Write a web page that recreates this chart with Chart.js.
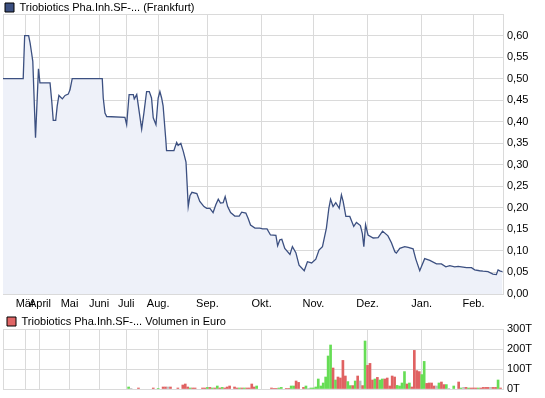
<!DOCTYPE html>
<html>
<head>
<meta charset="utf-8">
<script src="https://cdn.jsdelivr.net/npm/chart.js@4.4.1/dist/chart.umd.min.js"></script>
<style>
  body { margin: 0; background: #fff; }
  #wrap { position: relative; width: 545px; height: 398px; }
  #price { position: absolute; left: 0; top: 0; }
  #volume { position: absolute; left: 0; top: 312px; }
</style>
</head>
<body>
<div id="wrap">
  <canvas id="price" width="545" height="312"></canvas>
  <canvas id="volume" width="545" height="86"></canvas>
</div>
<script>
//Month labels and the trading day on which each month starts
const monthNames = ["Mär", "April", "Mai", "Juni", "Juli", "Aug.", "Sep.", "Okt.", "Nov.", "Dez.", "Jan.", "Feb."];
const monthStartDays = [9, 15, 27, 39, 50, 63, 83, 105, 126, 148, 170, 191];
const lastDay = 203;

//Price line (trading day, price in Euro)
const priceDays = [0, 8.2, 8.8, 10.4, 11, 11.6, 12.1, 13.2, 13.4, 14.4, 15, 19.1, 19.8, 20.4, 21.4, 22, 22.7, 24.1, 25.2, 26.5,
  27.2, 28.1, 40.3, 40.7, 41.4, 42.1, 49.5, 50.2, 51.2, 52.9, 53.3, 54.3, 56.3, 57.2, 58.3, 59.4, 60.3, 61, 62.1, 63,
  63.7, 64.4, 65, 66.1, 66.4, 69.4, 70.5, 71.1, 72.2, 73.2, 74.3, 74.8, 75.2, 75.9, 76.7, 78.7, 79.9, 81.6, 82.7, 84,
  85.3, 86.4, 87.4, 88.3, 89.4, 90.2, 91.2, 92.4, 94.1, 95.9, 96.9, 98.6, 99.5, 100.5, 102.3, 104.3, 105.4, 107.2, 108.6, 110.8,
  111.5, 112.4, 113.2, 114.4, 116.5, 117.5, 118.9, 120.2, 122.3, 123.6, 125.3, 127, 128.3, 129.7, 131.3, 132.3, 133, 134, 135.1, 136.5,
  137.4, 138.1, 139.2, 140.8, 142.4, 143.5, 145.1, 145.9, 146.5, 147.2, 148.2, 150.3, 152.3, 154.1, 156.3, 157.7, 159.1, 159.7, 161.1, 163.1,
  164.5, 166.5, 167.6, 169.2, 171.2, 173.3, 176, 178, 179.8, 181.4, 183.4, 184.8, 186.1, 188.2, 190.2, 191.5, 193.5, 194.9, 196.9, 198.9,
  200.3, 201, 201.9, 202.8];
const prices = [0.50, 0.50, 0.60, 0.60, 0.583, 0.56, 0.54, 0.363, 0.389, 0.523, 0.49, 0.49, 0.447, 0.403, 0.403, 0.436, 0.461, 0.453, 0.461, 0.464,
  0.474, 0.50, 0.50, 0.455, 0.42, 0.412, 0.41, 0.393, 0.463, 0.463, 0.453, 0.463, 0.383, 0.42, 0.47, 0.47, 0.455, 0.409, 0.393, 0.455,
  0.47, 0.455, 0.437, 0.358, 0.333, 0.333, 0.352, 0.345, 0.35, 0.331, 0.306, 0.25, 0.203, 0.228, 0.236, 0.233, 0.215, 0.203, 0.199, 0.199,
  0.189, 0.207, 0.22, 0.211, 0.212, 0.226, 0.203, 0.189, 0.181, 0.181, 0.19, 0.188, 0.176, 0.16, 0.153, 0.153, 0.151, 0.151, 0.137, 0.136,
  0.112, 0.126, 0.127, 0.106, 0.092, 0.11, 0.096, 0.067, 0.054, 0.075, 0.072, 0.081, 0.102, 0.11, 0.153, 0.199, 0.22, 0.203, 0.212, 0.199,
  0.23, 0.215, 0.18, 0.18, 0.157, 0.166, 0.159, 0.14, 0.11, 0.161, 0.137, 0.13, 0.131, 0.146, 0.135, 0.119, 0.098, 0.095, 0.106, 0.11,
  0.108, 0.105, 0.081, 0.054, 0.082, 0.078, 0.07, 0.07, 0.063, 0.066, 0.063, 0.064, 0.063, 0.061, 0.061, 0.056, 0.054, 0.053, 0.052, 0.046,
  0.045, 0.056, 0.053, 0.052];

//Volume in thousand Euro, trend: 1 = up, -1 = down, 0 = unchanged
const volDays = [51, 52, 55, 61, 63, 65, 66, 67, 68, 71, 73, 74, 75, 76, 77, 78, 81, 82, 83, 84,
  85, 86, 87, 88, 89, 90, 91, 92, 94, 95, 96, 97, 98, 99, 100, 101, 102, 103, 109, 110,
  111, 112, 113, 115, 116, 117, 118, 119, 120, 122, 123, 124, 125, 126, 127, 128, 129, 130, 131, 132,
  133, 134, 135, 136, 137, 138, 139, 140, 141, 142, 143, 144, 145, 146, 147, 148, 149, 150, 151, 152,
  153, 154, 155, 156, 157, 158, 159, 160, 161, 162, 163, 164, 165, 166, 167, 168, 169, 170, 171, 172,
  173, 174, 175, 176, 177, 178, 179, 180, 181, 183, 185, 186, 187, 188, 189, 190, 191, 192, 193, 194,
  195, 196, 197, 198, 199, 200, 201, 202];
const volumes = [10, 3, 5, 5, 3, 10, 10, 10, 10, 5, 20, 25, 10, 5, 5, 5, 5, 5, 8, 8,
  5, 5, 15, 5, 8, 5, 10, 15, 10, 5, 5, 5, 5, 5, 5, 25, 10, 15, 5, 3,
  3, 5, 8, 3, 3, 15, 15, 40, 33, 8, 15, 3, 5, 5, 10, 50, 15, 30, 60, 165,
  220, 105, 45, 60, 55, 143, 65, 37, 17, 17, 40, 65, 40, 17, 240, 118, 128, 45, 50, 58,
  45, 50, 50, 55, 15, 65, 60, 18, 15, 30, 87, 25, 30, 10, 193, 92, 87, 72, 138, 28,
  30, 30, 15, 15, 30, 35, 22, 22, 3, 15, 35, 5, 8, 8, 5, 5, 5, 5, 5, 5,
  8, 8, 8, 8, 8, 8, 45, 5];
const volTrend = [1, 0, -1, -1, 1, -1, -1, 0, -1, -1, -1, -1, -1, 1, -1, -1, -1, -1, 1, -1,
  1, -1, 1, -1, 1, -1, -1, -1, -1, -1, 1, -1, 1, -1, -1, -1, -1, 1, -1, -1,
  -1, 1, 1, -1, -1, 1, 1, -1, -1, -1, 1, 0, 1, 1, 1, 1, 1, 1, 1, 1,
  1, -1, 1, -1, -1, -1, -1, 1, 1, -1, 1, -1, 0, -1, 1, -1, -1, -1, 1, -1,
  1, 1, -1, -1, -1, -1, -1, 1, 1, 1, 1, -1, 1, -1, -1, -1, -1, 1, 1, -1,
  -1, -1, -1, 0, 1, -1, -1, 1, 0, 1, -1, 1, 0, -1, 1, -1, -1, -1, 1, -1,
  -1, -1, -1, 0, -1, -1, 1, -1];

const gridColor = "#dadada";
const textFont = { family: "Liberation Sans", size: 11 };
const trendColors = { "1": "#66dd55", "-1": "#e06262", "0": "#bdbdbd" };

//ticks on the month starts plus both ends
const monthTicks = (scale) => {
  scale.ticks = [0].concat(monthStartDays, [lastDay]).map((v) => ({ value: v }));
};
const monthLabel = (value) => {
  const i = monthStartDays.indexOf(value);
  return i >= 0 ? monthNames[i] : "";
};

//fixed legend height so the plot starts right under it
const legendHeight = (h) => ({
  id: "legendHeight",
  beforeInit(chart) {
    const fit = chart.legend.fit;
    chart.legend.fit = function () {
      fit.bind(chart.legend)();
      this.height = h;
    };
  },
});

//right axis with fixed width and no extra room for the end labels
const fitRightAxis = (scale) => {
  scale.width = 42;
  scale.paddingTop = 0;
  scale.paddingBottom = 0;
};

//Price chart
new Chart(document.getElementById("price"), {
  type: "line",
  plugins: [legendHeight(14)],
  data: {
    datasets: [
      {
        label: "Triobiotics Pha.Inh.SF-... (Frankfurt)",
        data: priceDays.map((d, i) => ({ x: d, y: prices[i] })),
        borderColor: "#3c5081",
        borderWidth: 1.3,
        backgroundColor: "#eef1f9",
        fill: "origin",
        pointRadius: 0,
        tension: 0,
      },
    ],
  },
  options: {
    responsive: false,
    animation: false,
    layout: { padding: { left: 3, right: 0, top: 0, bottom: 0 } },
    plugins: {
      tooltip: { enabled: false },
      legend: {
        align: "start",
        labels: {
          boxWidth: 9,
          boxHeight: 9,
          padding: 2,
          color: "#000",
          font: textFont,
          generateLabels: (chart) => [
            { text: chart.data.datasets[0].label, fillStyle: "#3c5081", strokeStyle: "#000", lineWidth: 1 },
          ],
        },
      },
    },
    scales: {
      x: {
        type: "linear",
        min: 0,
        max: lastDay,
        afterBuildTicks: monthTicks,
        afterFit: (scale) => { scale.height = 18; },
        grid: { color: gridColor, drawTicks: false },
        border: { color: gridColor },
        ticks: { autoSkip: false, maxRotation: 0, padding: 3, color: "#000", font: textFont, callback: monthLabel },
      },
      y: {
        position: "right",
        min: 0,
        max: 0.65,
        afterFit: fitRightAxis,
        grid: { color: gridColor, drawTicks: false },
        border: { color: gridColor },
        ticks: {
          stepSize: 0.05,
          padding: 4,
          color: "#000",
          font: textFont,
          callback: (v) => (v > 0.62 ? "" : v.toFixed(2).replace(".", ",")),
        },
      },
    },
  },
});

//Volume chart
new Chart(document.getElementById("volume"), {
  type: "bar",
  plugins: [legendHeight(17)],
  data: {
    datasets: [
      {
        label: "Triobiotics Pha.Inh.SF-... Volumen in Euro",
        data: volDays.map((d, i) => ({ x: d, y: volumes[i] })),
        backgroundColor: volTrend.map((t) => trendColors[t]),
        barThickness: 2,
      },
    ],
  },
  options: {
    responsive: false,
    animation: false,
    layout: { padding: { left: 3, right: 0, top: 0, bottom: 0 } },
    plugins: {
      tooltip: { enabled: false },
      legend: {
        align: "start",
        labels: {
          boxWidth: 9,
          boxHeight: 9,
          padding: 4,
          color: "#000",
          font: textFont,
          generateLabels: (chart) => [
            { text: chart.data.datasets[0].label, fillStyle: "#e06666", strokeStyle: "#000", lineWidth: 1 },
          ],
        },
      },
    },
    scales: {
      x: {
        type: "linear",
        min: 0,
        max: lastDay,
        offset: false,
        afterBuildTicks: monthTicks,
        afterFit: (scale) => { scale.height = 9; },
        grid: { color: gridColor, drawTicks: false, offset: false },
        border: { color: gridColor },
        ticks: { display: false },
      },
      y: {
        position: "right",
        min: 0,
        max: 300,
        afterFit: fitRightAxis,
        grid: { color: gridColor, drawTicks: false },
        border: { color: gridColor },
        ticks: { stepSize: 100, padding: 4, color: "#000", font: textFont, callback: (v) => v + "T" },
      },
    },
  },
});
</script>
</body>
</html>
